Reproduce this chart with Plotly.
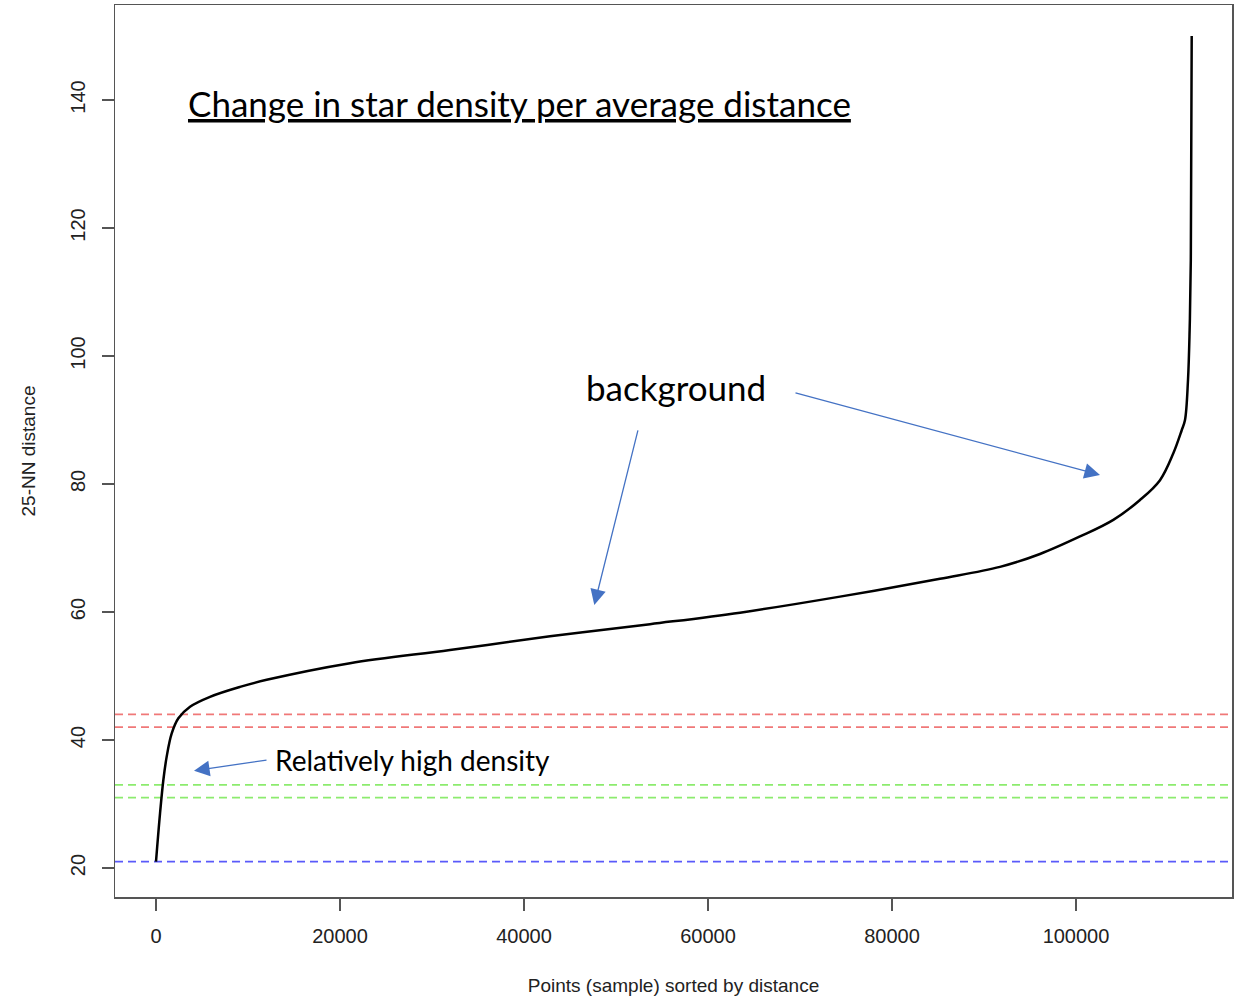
import plotly.graph_objects as go

# Curve (sorted 25-NN distances)
point_index = [0, 435, 800, 1160, 1700, 2430, 3700, 5870, 9130, 12030, 21087, 31957,
               42826, 53696, 63478, 74348, 85217, 91739, 96087, 100435, 104058, 106957,
               109130, 110580, 111490, 111848, 112174, 112350, 112480, 112576]
nn_distance = [21, 28.5, 33.75, 37.4, 41, 43.4, 45.2, 46.75, 48.3, 49.4, 52.0, 54.06,
               56.2, 58.1, 59.9, 62.4, 65.2, 67.05, 69.06, 71.8, 74.4, 77.5,
               80.6, 84.8, 88.4, 90.0, 96.25, 104, 115, 150]

# Horizontal dashed reference lines
ref_levels = [44, 42, 33, 31, 21]
ref_colors = ["rgb(240,120,120)", "rgb(240,120,120)", "rgb(140,235,110)", "rgb(140,235,110)", "rgb(90,90,250)"]

x_ticks = [0, 20000, 40000, 60000, 80000, 100000]
x_ticklabels = ["0", "20000", "40000", "60000", "80000", "100000"]
y_ticks = [20, 40, 60, 80, 100, 120, 140]
y_ticklabels = ["20", "40", "60", "80", "100", "120", "140"]

title_text = "Change in star density per average distance"
bg_text = "background"
hd_text = "Relatively high density"

fig = go.Figure()
fig.add_trace(go.Scatter(x=point_index, y=nn_distance, mode="lines",
                         line=dict(color="black", width=2.5, shape="spline", smoothing=1.0),
                         showlegend=False, hoverinfo="skip"))

for lvl, col in zip(ref_levels, ref_colors):
    fig.add_shape(type="line", xref="paper", x0=0, x1=1, yref="y", y0=lvl, y1=lvl,
                  line=dict(color=col, width=1.8, dash="8px,5px"), layer="below")

arrow_col = "#4472C4"
annots = [
    dict(x=39457, y=139.6, text=title_text, showarrow=False, xanchor="center", yanchor="middle",
         font=dict(family="Lato", size=35, color="black", lineposition="under")),
    dict(x=56522, y=95.2, text=bg_text, showarrow=False, xanchor="center", yanchor="middle",
         font=dict(family="Lato", size=35, color="black")),
    dict(x=27826, y=36.8, text=hd_text, showarrow=False, xanchor="center", yanchor="middle",
         font=dict(family="Lato", size=28, color="black")),
]
arrows = [((12174, 36.9), (4130, 35.2)),
          ((52424, 88.6), (47641, 61.1)),
          ((69348, 94.3), (102609, 81.4))]
for (tx, ty), (hx, hy) in arrows:
    annots.append(dict(x=hx, y=hy, ax=tx, ay=ty, xref="x", yref="y", axref="x", ayref="y",
                       text="", showarrow=True, arrowhead=2, arrowsize=2.4, arrowwidth=1.3,
                       arrowcolor=arrow_col))
fig.update_layout(annotations=annots)

axis_font = dict(family="Liberation Sans", size=20, color="#222")
fig.update_xaxes(range=[-4457, 116957], tickvals=x_ticks, ticktext=x_ticklabels,
                 ticks="outside", ticklen=12, tickwidth=1.3, tickcolor="#555",
                 showline=True, linecolor="#555", linewidth=1.5, mirror=True, automargin=False,
                 showgrid=False, zeroline=False, tickfont=axis_font, ticklabelstandoff=8,
                 title=dict(text="Points (sample) sorted by distance",
                            font=dict(family="Liberation Sans", size=19, color="#222"), standoff=36))
fig.update_yaxes(range=[15.47, 154.84], tickvals=y_ticks, ticktext=y_ticklabels,
                 ticks="outside", ticklen=12, tickwidth=1.3, tickcolor="#555", tickangle=-90,
                 showline=True, linecolor="#555", linewidth=1.5, mirror=True, automargin=False,
                 showgrid=False, zeroline=False, tickfont=axis_font, ticklabelstandoff=9,
                 title=dict(text="25-NN distance",
                            font=dict(family="Liberation Sans", size=19, color="#222"), standoff=26))

fig.update_layout(width=1240, height=996, margin=dict(l=115, r=8, t=5, b=99),
                  plot_bgcolor="white", paper_bgcolor="white")

fig.write_html("out.html", config={"displayModeBar": False, "staticPlot": True},
               post_script="document.body.style.margin='0';document.body.style.overflow='hidden';")
